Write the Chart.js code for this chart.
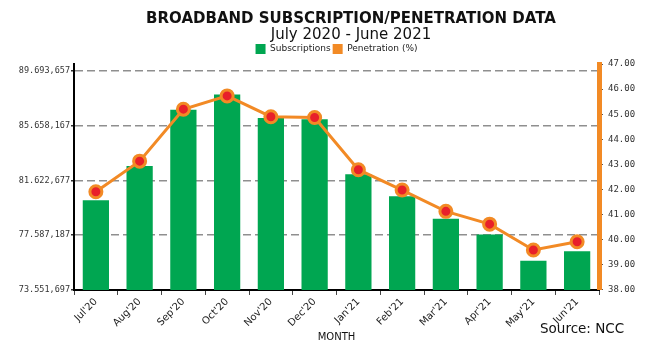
<!DOCTYPE html>
<html>
<head>
<meta charset="utf-8">
<script src="https://cdn.jsdelivr.net/npm/chart.js@4.4.1/dist/chart.umd.min.js"></script>
<style>
  html, body { margin: 0; padding: 0; background: #fff; }
  #wrap { width: 672px; height: 350px; position: relative; }
</style>
</head>
<body>
<div id="wrap"><canvas id="chart" width="672" height="350"></canvas></div>
<script>
// ---- data ----
const months = ["Jul'20", "Aug'20", "Sep'20", "Oct'20", "Nov'20", "Dec'20",
                "Jan'21", "Feb'21", "Mar'21", "Apr'21", "May'21", "Jun'21"];
const subscriptions = [80160000, 82670000, 86820000, 87940000, 86220000, 86120000,
                       82070000, 80450000, 78790000, 77630000, 75700000, 76400000];
const penetration = [41.91, 43.13, 45.20, 45.73, 44.90, 44.87,
                     42.79, 41.98, 41.13, 40.62, 39.59, 39.92];
const leftTicks = [73551697, 77587187, 81622677, 85658167, 89693657];
const leftTickLabels = ['73.551,697', '77.587,187', '81.622,677', '85.658,167', '89.693,657'];
const leftMin = 73551697;
const leftMax = 90190000;
const rightMin = 38;
const rightMax = 47;

const GREEN = '#00a651';
const ORANGE = '#f28a25';
const RED = '#e8202a';
const SANS = '"DejaVu Sans", sans-serif';
const MONO = '"DejaVu Sans Mono", monospace';

// heading + "Source: NCC" note (the heading sits a bit right of centre in the original)
const headingAndSource = {
  id: 'headingAndSource',
  afterDraw(chart) {
    const { ctx } = chart;
    ctx.save();
    ctx.fillStyle = '#111';
    ctx.textAlign = 'center';
    ctx.textBaseline = 'middle';
    ctx.font = 'bold 15px ' + SANS;
    ctx.fillText('BROADBAND SUBSCRIPTION/PENETRATION DATA', 351, 19);
    ctx.font = '15px ' + SANS;
    ctx.fillText('July 2020 - June 2021', 351, 35);

    ctx.textAlign = 'left';
    ctx.font = '13.5px ' + SANS;
    ctx.fillText('Source: NCC', 540, 329);
    ctx.restore();
  }
};

const ctx = document.getElementById('chart').getContext('2d');
new Chart(ctx, {
  data: {
    labels: months,
    datasets: [
      {
        type: 'line',
        label: 'Penetration (%)',
        data: penetration,
        yAxisID: 'y1',
        order: 0,
        borderColor: ORANGE,
        backgroundColor: ORANGE,
        borderWidth: 3,
        pointRadius: 6,
        pointBorderWidth: 3,
        pointBackgroundColor: RED,
        pointBorderColor: ORANGE,
        tension: 0,
      },
      {
        type: 'bar',
        label: 'Subscriptions',
        data: subscriptions,
        yAxisID: 'y',
        order: 1,
        backgroundColor: GREEN,
        borderWidth: 0,
        barPercentage: 0.6,
        categoryPercentage: 1,
      },
    ],
  },
  options: {
    responsive: false,
    animation: false,
    devicePixelRatio: 1,
    layout: { padding: { left: 4, right: 0, top: 42, bottom: 7 } },
    plugins: {
      title: { display: false },
      legend: {
        display: true,
        position: 'top',
        fullSize: false,
        reverse: true,
        labels: {
          color: '#222',
          font: { family: SANS, size: 9 },
          boxWidth: 10,
          boxHeight: 10,
          padding: 2,
          // plain filled squares for both keys
          generateLabels: chart =>
            Chart.defaults.plugins.legend.labels.generateLabels(chart)
              .map(item => ({ ...item, lineWidth: 0 })),
        },
      },
      tooltip: { enabled: false },
    },
    scales: {
      x: {
        offset: true,
        grid: { display: true, drawOnChartArea: false, offset: true, tickLength: 5, color: '#444' },
        border: { display: true, color: '#000', width: 2 },
        ticks: {
          color: '#222',
          font: { family: SANS, size: 10 },
          minRotation: 45,
          maxRotation: 45,
          padding: 1,
        },
        title: {
          display: true,
          text: 'MONTH',
          color: '#111',
          font: { family: SANS, size: 10 },
          padding: { top: 0, bottom: 0 },
        },
      },
      y: {
        position: 'left',
        min: leftMin,
        max: leftMax,
        afterBuildTicks: axis => { axis.ticks = leftTicks.map(v => ({ value: v })); },
        afterFit: axis => { axis.width = 70; },
        grid: { color: '#8f8f8f', lineWidth: 1.5, tickLength: 3, tickColor: '#333', tickBorderDash: [] },
        border: { display: true, color: '#000', width: 2, dash: [8, 4] },
        ticks: {
          color: '#333',
          font: { family: MONO, size: 8.5 },
          padding: 1,
          callback: v => leftTickLabels[leftTicks.indexOf(v)] ?? '',
        },
      },
      y1: {
        position: 'right',
        min: rightMin,
        max: rightMax,
        afterFit: axis => { axis.width = 73; },
        grid: { drawOnChartArea: false, tickLength: 4, color: '#555' },
        border: { display: true, color: ORANGE, width: 5 },
        ticks: {
          stepSize: 1,
          color: '#333',
          font: { family: MONO, size: 9 },
          padding: 5,
          callback: v => Number(v).toFixed(2),
        },
      },
    },
  },
  plugins: [headingAndSource],
});
</script>
</body>
</html>
